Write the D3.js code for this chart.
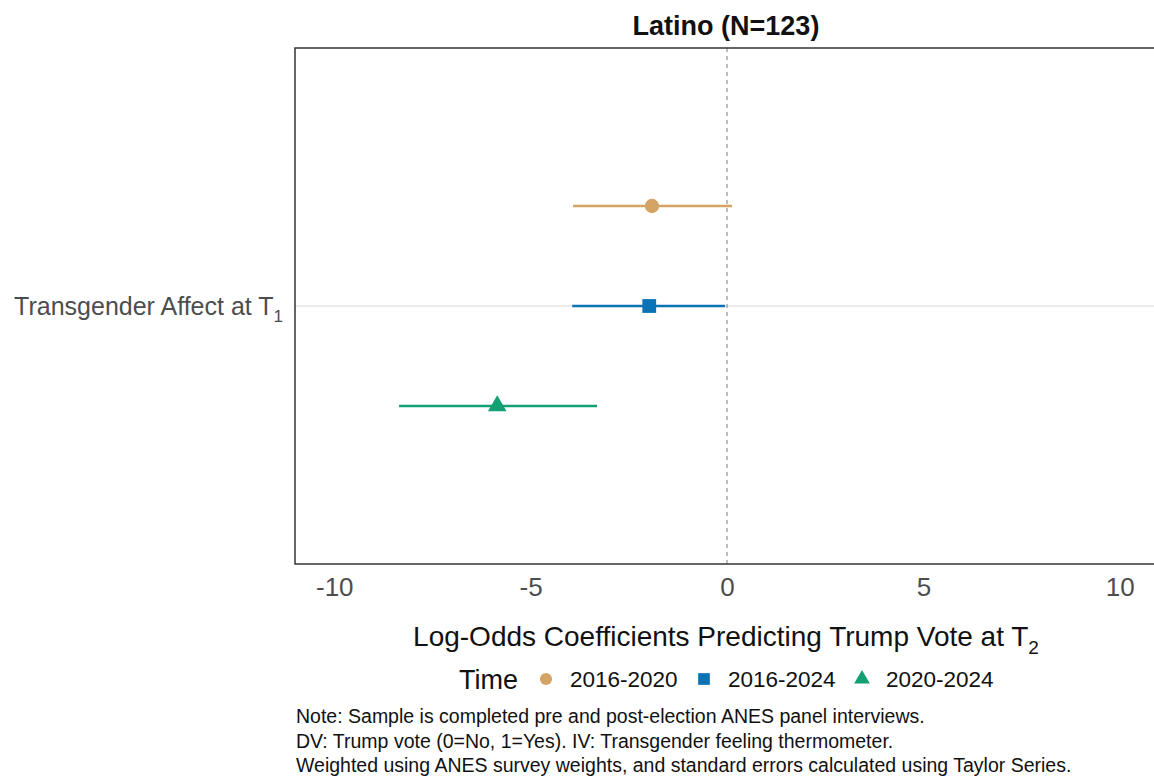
<!DOCTYPE html>
<html>
<head>
<meta charset="utf-8">
<script src="https://cdn.jsdelivr.net/npm/d3@7"></script>
<style>
  html, body { margin: 0; padding: 0; background: #fff; }
  svg { display: block; font-family: "Liberation Sans", Arial, Helvetica, sans-serif; }
</style>
</head>
<body>
<svg id="chart" width="1154" height="776"></svg>
<script>
// Coefficient estimates with confidence intervals by election period
const periods   = ["2016-2020", "2016-2024", "2020-2024"];
const estimates = [-1.91, -1.98, -5.85];
const lowerCI   = [-3.92, -3.94, -8.35];
const upperCI   = [0.13, -0.05, -3.31];
const predictor = ["Transgender Affect at T1"];
const xTicks    = [-10, -5, 0, 5, 10];
const colors    = ["#D4A464", "#0B72B5", "#12A074"];
const shapes    = [d3.symbolCircle, d3.symbolSquare, d3.symbolTriangle];
const noteLines = [
  "Note: Sample is completed pre and post-election ANES panel interviews.",
  "DV: Trump vote (0=No, 1=Yes). IV: Transgender feeling thermometer.",
  "Weighted using ANES survey weights, and standard errors calculated using Taylor Series."
];

const svg = d3.select("#chart");
const panel = { left: 295, right: 1159, top: 48, bottom: 564 };

const x = d3.scaleLinear().domain([-11, 11]).range([panel.left, panel.right]);
const y = d3.scaleBand().domain(predictor).range([panel.top, panel.bottom]);
const dodge = d3.scalePoint().domain(periods).range([-100, 100]);
const yc = y(predictor[0]) + y.bandwidth() / 2;

// horizontal gridline at the category
svg.append("line")
  .attr("x1", panel.left).attr("x2", panel.right)
  .attr("y1", yc).attr("y2", yc)
  .attr("stroke", "#e6e6e6").attr("stroke-width", 1.3);

// reference line at zero
svg.append("line")
  .attr("x1", x(0)).attr("x2", x(0))
  .attr("y1", panel.top).attr("y2", panel.bottom)
  .attr("stroke", "#8a8a8a").attr("stroke-width", 1.1)
  .attr("stroke-dasharray", "4,4");

const rows = periods.map((p, i) => ({
  period: p, est: estimates[i], lo: lowerCI[i], hi: upperCI[i],
  color: colors[i], shape: shapes[i]
}));

// confidence intervals
svg.append("g").selectAll("line").data(rows).join("line")
  .attr("x1", d => x(d.lo)).attr("x2", d => x(d.hi))
  .attr("y1", d => yc + dodge(d.period)).attr("y2", d => yc + dodge(d.period))
  .attr("stroke", d => d.color).attr("stroke-width", 2.6);

// point estimates
const symSize = s => s === d3.symbolCircle ? 160 : s === d3.symbolSquare ? 190 : 150;
svg.append("g").selectAll("path").data(rows).join("path")
  .attr("transform", d => `translate(${x(d.est)},${yc + dodge(d.period)})`)
  .attr("d", d => d3.symbol().type(d.shape).size(symSize(d.shape))())
  .attr("fill", d => d.color);

// panel border
svg.append("rect")
  .attr("x", panel.left).attr("y", panel.top)
  .attr("width", panel.right - panel.left).attr("height", panel.bottom - panel.top)
  .attr("fill", "none").attr("stroke", "#333").attr("stroke-width", 1.5);

// x axis tick labels
const xAxis = d3.axisBottom(x).tickValues(xTicks).tickSize(0).tickPadding(14)
  .tickFormat(d => String(d));
const gx = svg.append("g").attr("transform", `translate(0,${panel.bottom})`).call(xAxis);
gx.select(".domain").remove();
gx.selectAll("text").attr("font-size", 26).attr("fill", "#4d4d4d")
  .style("font-family", "'Liberation Sans', Arial, sans-serif");

// y axis label
const yl = svg.append("text")
  .attr("x", 283).attr("y", yc + 9)
  .attr("text-anchor", "end").attr("font-size", 25).attr("fill", "#4d4d4d");
yl.append("tspan").text("Transgender Affect at T");
yl.append("tspan").text("1").attr("font-size", 17).attr("dy", 7);

// title
svg.append("text")
  .attr("x", (panel.left + panel.right) / 2 - 1).attr("y", 35)
  .attr("text-anchor", "middle").attr("font-size", 27).attr("font-weight", "bold")
  .attr("fill", "#111").text("Latino (N=123)");

// x axis title
const xt = svg.append("text")
  .attr("x", 726).attr("y", 646)
  .attr("text-anchor", "middle").attr("font-size", 28).attr("fill", "#111");
xt.append("tspan").text("Log-Odds Coefficients Predicting Trump Vote at T");
xt.append("tspan").text("2").attr("font-size", 19).attr("dy", 8);

// legend
const legend = svg.append("g");
legend.append("text").attr("x", 459).attr("y", 689)
  .attr("font-size", 27).attr("fill", "#111").text("Time");
const legX = [546, 704, 862];
rows.forEach((d, i) => {
  legend.append("path")
    .attr("transform", `translate(${legX[i]},${679})`)
    .attr("d", d3.symbol().type(d.shape).size(symSize(d.shape) * 0.72)())
    .attr("fill", d.color);
  legend.append("text").attr("x", legX[i] + 24).attr("y", 687)
    .attr("font-size", 22.5).attr("fill", "#111").text(d.period);
});

// notes
svg.append("g").selectAll("text").data(noteLines).join("text")
  .attr("x", 296).attr("y", (d, i) => 723 + i * 24.5)
  .attr("font-size", 19.5).attr("fill", "#111").text(d => d);
</script>
</body>
</html>
